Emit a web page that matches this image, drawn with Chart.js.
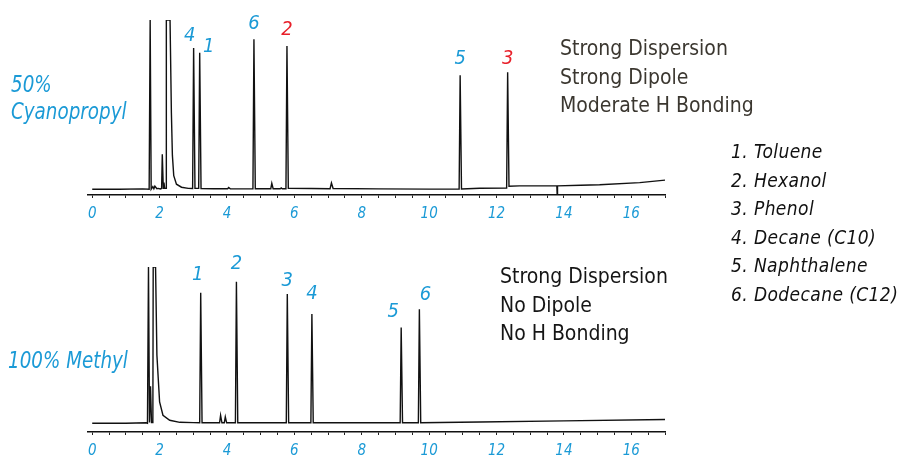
<!DOCTYPE html>
<html>
<head>
<meta charset="utf-8">
<title>Stationary phase selectivity</title>
<script src="https://cdn.jsdelivr.net/npm/chart.js@4.4.1/dist/chart.umd.min.js"></script>
<style>
  html, body { margin: 0; padding: 0; background: #fff; }
  #stage {
    position: relative; width: 903px; height: 457px; overflow: hidden;
    font-family: "Liberation Sans Narrow", "DejaVu Sans Condensed", "Roboto", sans-serif;
  }
  #stage canvas { position: absolute; left: 0; top: 0; }
  .txt { position: absolute; white-space: nowrap; }
  .phase { color: #1b9ad6; font-style: italic; font-size: 23px; line-height: 27px; transform: scaleX(0.885); transform-origin: 0 0; }
  .props { font-size: 21px; line-height: 28.6px; }
  .legend { color: #111; font-style: italic; font-size: 19px; letter-spacing: 0.4px; line-height: 28.6px; left: 731px; top: 137px; }
  .peak { position: absolute; font-style: italic; font-size: 20px; line-height: 20px; transform: translate(-50%, -50%); }
</style>
</head>
<body>
<div id="stage">
  <canvas id="cyano" width="903" height="457"></canvas>
  <canvas id="methyl" width="903" height="457"></canvas>

  <div class="txt phase" style="left:11px; top:71px;">50%<br>Cyanopropyl</div>
  <div class="txt phase" style="left:8px; top:347px;">100% Methyl</div>

  <div class="txt props" style="left:560px; top:34px; color:#3b3730;">Strong Dispersion<br>Strong Dipole<br>Moderate H Bonding</div>
  <div class="txt props" style="left:500px; top:262px; color:#151515;">Strong Dispersion<br>No Dipole<br>No H Bonding</div>

  <div class="txt legend" id="legend"></div>
</div>
<script>
// retention time axis labels (minutes)
const xTickLabels = ['0', '2', '4', '6', '8', '10', '12', '14', '16'];

// 50% cyanopropyl column trace
const cyanoTime = [0, 0.8, 1.5, 1.69, 1.72, 1.75, 1.80, 1.83, 1.86, 1.92, 1.96, 2.02, 2.06, 2.08, 2.11, 2.13, 2.15,
  2.19, 2.20, 2.31, 2.35, 2.38, 2.42, 2.50, 2.65, 2.85, 2.98, 3.01, 3.05, 3.16, 3.19, 3.23, 3.6, 4.02, 4.05, 4.10,
  4.77, 4.80, 4.84, 5.30, 5.33, 5.37, 5.58, 5.61, 5.64, 5.75, 5.78, 5.82, 6.5, 7.06, 7.10, 7.15, 8.5, 10.0,
  10.89, 10.92, 10.96, 11.5, 12.30, 12.33, 12.37, 12.68, 13.79, 13.80, 13.81, 14.5, 15.06, 16.25, 17.0];
const cyanoSignal = [0, 0, 0.2, 0, 100, 0, 1.5, 0.3, 1.8, 0.3, 0.5, 0.2, 0.5, 20.7, 0.5, 4, 0.5,
  0.5, 100, 100, 45, 20, 8, 3, 1.2, 0.5, 0.4, 83.5, 0.5, 0.5, 80.7, 0.4, 0.3, 0.3, 1.0, 0.3,
  0.2, 88.6, 0.3, 0.3, 3.5, 0.3, 0.3, 0.8, 0.3, 0.3, 84.6, 0.5, 0.4, 0.3, 3.7, 0.4, 0.2, 0.1,
  0.1, 67.4, 0.2, 0.6, 0.7, 69.1, 1.8, 2.0, 2.0, -3.4, 2.0, 2.4, 2.7, 3.9, 5.4];
const cyanoPeakIds = ['4', '1', '6', '2', '5', '3'];
const cyanoPeakTimes = [3.01, 3.19, 4.80, 5.78, 10.92, 12.33];

// 100% methyl column trace
const methylTime = [0, 1.0, 1.6, 1.64, 1.67, 1.70, 1.73, 1.76, 1.80, 1.81, 1.88, 1.92, 2.0, 2.10, 2.30, 2.6, 3.0,
  3.19, 3.22, 3.26, 3.78, 3.81, 3.85, 3.92, 3.95, 3.99, 4.25, 4.28, 4.32, 5.0, 5.76, 5.79, 5.83,
  6.49, 6.52, 6.56, 8.0, 9.14, 9.17, 9.21, 9.68, 9.71, 9.75, 11.5, 14.0, 17.0];
const methylSignal = [0, 0, 0.3, 0, 100, 0.5, 23.7, 0.5, 0.5, 100, 100, 43.6, 13.6, 5.1, 1.9, 0.6, 0.4,
  0.3, 83.5, 0.3, 0.3, 5.1, 0.3, 0.3, 4.1, 0.3, 0.3, 90.6, 0.3, 0.3, 0.3, 82.7, 0.3,
  0.3, 69.9, 0.3, 0.3, 0.3, 61.3, 0.3, 0.3, 72.9, 0.3, 0.8, 1.5, 2.4];
const methylPeakIds = ['1', '2', '3', '4', '5', '6'];
const methylPeakTimes = [3.22, 4.28, 5.79, 6.52, 9.17, 9.71];

const compounds = ['Toluene', 'Hexanol', 'Phenol', 'Decane (C10)', 'Naphthalene', 'Dodecane (C12)'];

const BLUE = '#1b9ad6';
const RED = '#e8202a';
const stage = document.getElementById('stage');

document.getElementById('legend').innerHTML =
  compounds.map((c, i) => (i + 1) + '. ' + c).join('<br>');

// puts the peak numbers above each apex as html spans
const peakLabels = {
  id: 'peakLabels',
  afterDraw(chart, args, opts) {
    const xs = chart.scales.x, ys = chart.scales.y;
    const pts = chart.data.datasets[0].data;
    opts.ids.forEach((id, i) => {
      const p = pts.find(d => d.x === opts.times[i]);
      const key = opts.prefix + i;
      let el = document.getElementById(key);
      if (!el) {
        el = document.createElement('span');
        el.id = key;
        el.className = 'peak';
        stage.appendChild(el);
      }
      el.textContent = id;
      el.style.color = opts.colors[i];
      el.style.left = (xs.getPixelForValue(p.x) + opts.nudge[i][0]) + 'px';
      el.style.top = (ys.getPixelForValue(p.y) + opts.nudge[i][1]) + 'px';
    });
  }
};

function makeTrace(id, times, signal, yMin, pad, axisH, labelOpts) {
  return new Chart(document.getElementById(id), {
    type: 'line',
    data: {
      datasets: [{
        data: times.map((t, i) => ({ x: t, y: signal[i] })),
        borderColor: '#111',
        borderWidth: 1.4,
        pointRadius: 0,
        tension: 0,
        fill: false
      }]
    },
    options: {
      responsive: false,
      animation: false,
      events: [],
      layout: { padding: pad },
      plugins: { legend: { display: false }, tooltip: { enabled: false }, peakLabels: labelOpts },
      scales: {
        x: {
          type: 'linear',
          min: -0.125,
          max: 17.0,
          afterFit: s => { s.height = axisH; },
          border: { display: true, color: '#111', width: 1.5 },
          grid: { drawOnChartArea: false, drawTicks: true, tickLength: 3, color: '#222', lineWidth: 1 },
          ticks: {
            stepSize: 0.5,
            includeBounds: false,
            autoSkip: false,
            maxRotation: 0,
            padding: 7,
            color: BLUE,
            font: { family: '"Liberation Sans Narrow", "DejaVu Sans Condensed", Roboto, sans-serif', size: 15, style: 'italic' },
            callback: v => xTickLabels.includes(String(v)) ? String(v) : ''
          }
        },
        y: { display: false, min: yMin, max: 100 }
      }
    },
    plugins: [peakLabels]
  });
}

makeTrace('cyano', cyanoTime, cyanoSignal, -3.4,
  { left: 88, right: 238, top: 20, bottom: 232 }, 30,
  {
    prefix: 'cp', ids: cyanoPeakIds, times: cyanoPeakTimes,
    colors: [BLUE, BLUE, BLUE, RED, BLUE, RED],
    nudge: [[-4, -14], [9, -8], [0, -17], [0, -18], [0, -18], [0, -15]]
  });

makeTrace('methyl', methylTime, methylSignal, -5.6,
  { left: 88, right: 238, top: 267, bottom: 0 }, 25,
  {
    prefix: 'mp', ids: methylPeakIds, times: methylPeakTimes,
    colors: [BLUE, BLUE, BLUE, BLUE, BLUE, BLUE],
    nudge: [[-3, -20], [0, -20], [0, -15], [0, -22], [-8, -17], [6, -16]]
  });
</script>
</body>
</html>
